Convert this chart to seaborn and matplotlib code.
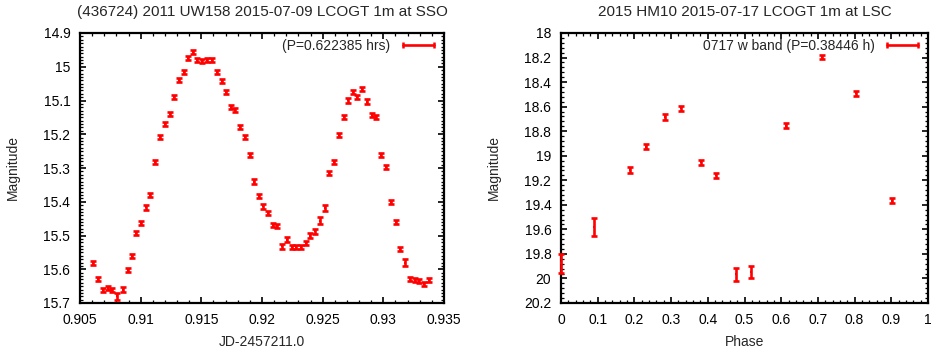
import matplotlib
matplotlib.use("Agg")
import matplotlib.pyplot as plt
from matplotlib.lines import Line2D
from matplotlib.ticker import MultipleLocator, FuncFormatter
import seaborn as sns

# Lightcurve of (436724) 2011 UW158, 2015-07-09 (JD - 2457211.0)
uw158_jd = [0.90604, 0.90645, 0.90687, 0.90728, 0.90765, 0.90807, 0.90851, 0.90892,
            0.90925, 0.90963, 0.91001, 0.91042, 0.91081, 0.91122, 0.91157, 0.91198,
            0.9124, 0.91275, 0.91313, 0.91355, 0.9139, 0.91431, 0.91467, 0.91508,
            0.91549, 0.9159, 0.91628, 0.91669, 0.91705, 0.91741, 0.91779, 0.9182,
            0.91862, 0.91897, 0.91932, 0.91973, 0.92012, 0.92053, 0.92088, 0.92124,
            0.92166, 0.92207, 0.92244, 0.92281, 0.92322, 0.92363, 0.92398, 0.92439,
            0.92478, 0.92519, 0.92554, 0.92595, 0.92631, 0.92672, 0.9271, 0.92751,
            0.92787, 0.92828, 0.92864, 0.92905, 0.92943, 0.92984, 0.9302, 0.93061,
            0.93102, 0.93138, 0.93179, 0.9322, 0.93258, 0.93294, 0.93335, 0.93376]
uw158_mag = [15.581, 15.629, 15.661, 15.656, 15.661, 15.68, 15.661, 15.603,
             15.562, 15.493, 15.463, 15.417, 15.379, 15.283, 15.208, 15.17,
             15.14, 15.09, 15.038, 15.016, 14.974, 14.956, 14.979, 14.982,
             14.979, 14.981, 15.016, 15.043, 15.075, 15.119, 15.129, 15.179,
             15.208, 15.261, 15.34, 15.384, 15.414, 15.432, 15.47, 15.473,
             15.532, 15.512, 15.534, 15.534, 15.534, 15.522, 15.501, 15.488,
             15.456, 15.419, 15.315, 15.283, 15.203, 15.149, 15.1, 15.076,
             15.09, 15.066, 15.103, 15.144, 15.15, 15.261, 15.298, 15.401,
             15.461, 15.54, 15.581, 15.628, 15.633, 15.636, 15.644, 15.633]
uw158_err = [0.006, 0.006, 0.006, 0.006, 0.006, 0.011, 0.007, 0.006,
             0.006, 0.006, 0.006, 0.006, 0.006, 0.006, 0.006, 0.006,
             0.006, 0.006, 0.006, 0.006, 0.007, 0.006, 0.006, 0.006,
             0.006, 0.006, 0.006, 0.006, 0.006, 0.006, 0.006, 0.006,
             0.006, 0.006, 0.006, 0.006, 0.006, 0.006, 0.006, 0.006,
             0.007, 0.007, 0.006, 0.006, 0.006, 0.006, 0.007, 0.008,
             0.011, 0.008, 0.006, 0.006, 0.006, 0.006, 0.006, 0.006,
             0.006, 0.006, 0.006, 0.006, 0.006, 0.006, 0.006, 0.006,
             0.006, 0.007, 0.01, 0.006, 0.006, 0.006, 0.006, 0.006]

# Phased lightcurve of 2015 HM10, 2015-07-17
hm10_phase = [0.0, 0.091, 0.187, 0.231, 0.283, 0.327, 0.382, 0.423,
              0.478, 0.517, 0.614, 0.71, 0.805, 0.903]
hm10_mag = [19.876, 19.582, 19.115, 18.925, 18.685, 18.615, 19.055, 19.16,
            19.966, 19.945, 18.756, 18.196, 18.49, 19.365]
hm10_err = [0.076, 0.072, 0.022, 0.02, 0.022, 0.02, 0.022, 0.022,
            0.055, 0.05, 0.02, 0.018, 0.02, 0.02]

sns.set_theme(style="ticks")
plt.rcParams['font.family'] = ['Liberation Sans', 'DejaVu Sans']

RED = "#ff0000"
fmt_g = FuncFormatter(lambda v, p: "%g" % round(v, 6))

fig = plt.figure(figsize=(9.32, 3.53), dpi=100)
ax1 = fig.add_axes([80 / 932, 50 / 353, 364 / 932, 270 / 353])
ax2 = fig.add_axes([561 / 932, 50 / 353, 367 / 932, 270 / 353])


def draw_panel(ax, x, y, err, label):
    sns.scatterplot(x=x, y=y, ax=ax, color=RED, marker="s", s=3, linewidth=0,
                    legend=False, clip_on=False, zorder=3)
    ax.errorbar(x, y, yerr=err, fmt="none", ecolor=RED, elinewidth=1.9,
                capsize=2.0, capthick=1.9, clip_on=False, zorder=3)
    handle = Line2D([], [], color=RED, lw=1.9, marker="|", markersize=5, mew=1.8)
    ax.legend([handle], [label], loc="upper right", frameon=False, numpoints=2,
              markerfirst=False, handlelength=2.8, handletextpad=0.6,
              borderaxespad=0.05, fontsize=10)
    for side in ["top", "right", "bottom", "left"]:
        ax.spines[side].set_linewidth(1.6)
        ax.spines[side].set_color("black")
    ax.tick_params(which="both", direction="in", top=True, right=True,
                   color="black", labelsize=10, labelcolor="black")
    ax.tick_params(which="major", length=4, width=1.2, pad=7)
    ax.tick_params(which="minor", length=2, width=0.9)
    ax.xaxis.set_major_formatter(fmt_g)
    ax.yaxis.set_major_formatter(fmt_g)
    ax.set_ylabel("Magnitude", fontsize=10, labelpad=17)


draw_panel(ax1, uw158_jd, uw158_mag, uw158_err, "(P=0.622385 hrs)")
ax1.set_xlim(0.905, 0.935)
ax1.set_ylim(15.7, 14.9)
ax1.xaxis.set_major_locator(MultipleLocator(0.005))
ax1.xaxis.set_minor_locator(MultipleLocator(0.001))
ax1.yaxis.set_major_locator(MultipleLocator(0.1))
ax1.yaxis.set_minor_locator(MultipleLocator(0.01))
ax1.set_xlabel("JD-2457211.0", fontsize=10, labelpad=6)
ax1.set_title("(436724) 2011 UW158 2015-07-09 LCOGT 1m at SSO", fontsize=11, pad=12)

draw_panel(ax2, hm10_phase, hm10_mag, hm10_err, "0717 w band (P=0.38446 h)")
ax2.set_xlim(0, 1)
ax2.set_ylim(20.2, 18)
ax2.xaxis.set_major_locator(MultipleLocator(0.1))
ax2.xaxis.set_minor_locator(MultipleLocator(0.02))
ax2.yaxis.set_major_locator(MultipleLocator(0.2))
ax2.yaxis.set_minor_locator(MultipleLocator(0.04))
ax2.set_xlabel("Phase", fontsize=10, labelpad=6)
ax2.set_title("2015 HM10 2015-07-17 LCOGT 1m at LSC", fontsize=11, pad=12)

fig.savefig("out.png", dpi=100, facecolor="white")
